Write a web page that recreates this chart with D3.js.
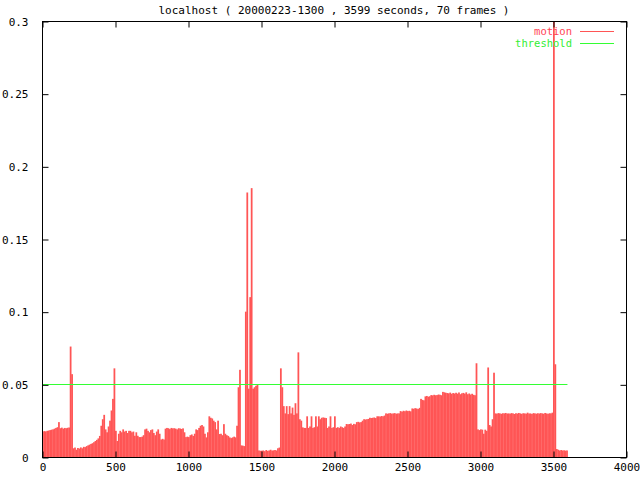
<!DOCTYPE html>
<html><head><meta charset="utf-8">
<script src="https://cdn.jsdelivr.net/npm/d3@7"></script>
<style>body{margin:0;background:#fff}svg{display:block}text{font-family:"DejaVu Sans Mono",monospace;font-size:11px}</style>
</head><body>
<script>
const title = "localhost ( 20000223-1300 , 3599 seconds, 70 frames )";
const binSeconds = 10;
const motion = [
0.0175,0.0178,0.0176,0.018,0.0182,0.0185,0.0188,0.019,0.0195,0.020,
0.0205,0.024,0.0198,0.0202,0.0195,0.0200,0.0198,0.0201,0.0203,0.076,
0.057,0.006,0.0065,0.005,0.0062,0.0058,0.0066,0.006,0.007,0.0068,
0.0075,0.008,0.0085,0.009,0.0095,0.0102,0.011,0.0118,0.0128,0.0145,
0.0215,0.026,0.029,0.019,0.017,0.021,0.025,0.032,0.040,0.061,
0.018,0.011,0.016,0.018,0.017,0.019,0.0175,0.018,0.0165,0.018,
0.018,0.017,0.0175,0.0146,0.017,0.0146,0.0137,0.0137,0.014,0.015,
0.019,0.0195,0.018,0.017,0.0185,0.019,0.0165,0.015,0.0175,0.019,
0.016,0.012,0.0125,0.012,0.0195,0.020,0.0198,0.0192,0.020,0.0197,
0.0198,0.0195,0.019,0.0198,0.0196,0.0193,0.0197,0.017,0.0137,0.014,
0.0137,0.015,0.0155,0.0145,0.016,0.019,0.0185,0.020,0.0215,0.022,
0.021,0.016,0.0135,0.017,0.028,0.027,0.0265,0.025,0.024,0.019,
0.025,0.0158,0.016,0.015,0.0226,0.016,0.015,0.0145,0.0135,0.013,
0.0135,0.014,0.0135,0.0215,0.048,0.060,0.008,0.0078,0.0075,0.100,
0.182,0.047,0.110,0.185,0.047,0.048,0.049,0.050,0.0045,0.0043,
0.0043,0.0045,0.004,0.0048,0.0042,0.0045,0.005,0.0044,0.0046,0.0048,
0.0045,0.006,0.0065,0.061,0.048,0.035,0.030,0.035,0.0295,0.035,
0.030,0.034,0.029,0.037,0.030,0.072,0.026,0.025,0.0204,0.020,
0.020,0.028,0.020,0.021,0.028,0.020,0.0205,0.028,0.021,0.028,
0.026,0.027,0.0272,0.027,0.0268,0.020,0.021,0.028,0.020,0.0205,
0.028,0.020,0.0205,0.020,0.021,0.0205,0.020,0.021,0.0227,0.0225,
0.0227,0.023,0.022,0.0228,0.0225,0.024,0.0242,0.0238,0.024,0.025,
0.026,0.0258,0.026,0.0262,0.027,0.0268,0.027,0.0272,0.0268,0.028,
0.028,0.0278,0.0282,0.028,0.0285,0.030,0.0298,0.030,0.0302,0.0298,
0.030,0.0302,0.0298,0.030,0.030,0.0316,0.0312,0.0318,0.0315,0.032,
0.0316,0.0318,0.0314,0.0334,0.0332,0.0336,0.0334,0.033,0.0338,0.040,
0.0393,0.039,0.0417,0.042,0.0415,0.0418,0.0426,0.0424,0.0428,0.0425,
0.0426,0.043,0.0428,0.0425,0.0448,0.0445,0.0442,0.044,0.0438,0.0443,
0.0435,0.044,0.0437,0.0442,0.0436,0.0444,0.0432,0.0438,0.0441,0.0436,
0.0445,0.0432,0.0437,0.043,0.0435,0.0428,0.0425,0.0645,0.019,0.0185,
0.019,0.0188,0.016,0.0188,0.018,0.0616,0.022,0.021,0.026,0.058,
0.030,0.0298,0.0302,0.030,0.0297,0.0301,0.030,0.0303,0.0299,0.030,
0.0298,0.0302,0.030,0.0296,0.0301,0.0299,0.0303,0.030,0.0297,0.0301,
0.030,0.0298,0.0305,0.0299,0.030,0.0296,0.0302,0.030,0.0298,0.0301,
0.0299,0.0302,0.030,0.0298,0.0303,0.030,0.0297,0.0301,0.030,0.0305,
0.3,0.0638,0.0055,0.005,0.0045,0.0048,0.0045,0.0046,0.0044,0.0045
];
const threshold = 0.05;
const durationSeconds = 3599;
const xTicks = [0,500,1000,1500,2000,2500,3000,3500,4000];
const yTicks = [0,0.05,0.1,0.15,0.2,0.25,0.3];
const legendLabels = ["motion","threshold"];

const W=640,H=480, L=42, R=626, T=21, B=457;
const motionColor="#ff5555", threshColor="#33ff33";
const svg=d3.select("body").append("svg").attr("width",W).attr("height",H);
const x=d3.scaleLinear().domain([0,4000]).range([L,R]);
const y=d3.scaleLinear().domain([0,0.3]).range([B,T]);

svg.append("defs").append("clipPath").attr("id","clip").append("rect")
  .attr("x",L).attr("y",T).attr("width",R-L).attr("height",B-T);

// motion impulses
svg.append("g").attr("clip-path","url(#clip)").selectAll("rect").data(motion).join("rect")
  .attr("x",(d,i)=>x(i*binSeconds))
  .attr("width",(d,i)=>x((i+1)*binSeconds)-x(i*binSeconds)+0.3)
  .attr("y",d=>y(d)).attr("height",d=>B-y(d))
  .attr("fill",motionColor);

// threshold
svg.append("line").attr("x1",x(0)).attr("x2",x(durationSeconds))
  .attr("y1",Math.round(y(threshold))+0.5).attr("y2",Math.round(y(threshold))+0.5)
  .attr("stroke",threshColor).attr("stroke-width",1);

// frame
svg.append("rect").attr("x",L+0.5).attr("y",T+0.5).attr("width",R-L).attr("height",B-T)
  .attr("fill","none").attr("stroke","#000").attr("stroke-width",1);

// axes via d3 axis generators, ticks inward & mirrored
const fmtY=d=>String(+d.toFixed(2));
const axB=svg.append("g").attr("transform",`translate(0.5,${B+0.5})`)
  .call(d3.axisBottom(x).tickValues(xTicks).tickSize(-6).tickPadding(11).tickFormat(d3.format("d")));
const axT=svg.append("g").attr("transform",`translate(0.5,${T+0.5})`)
  .call(d3.axisTop(x).tickValues(xTicks).tickSize(-6).tickFormat(""));
const axL=svg.append("g").attr("transform",`translate(${L+0.5},0.5)`)
  .call(d3.axisLeft(y).tickValues(yTicks).tickSize(-6).tickPadding(14).tickFormat(fmtY));
const axR=svg.append("g").attr("transform",`translate(${R+0.5},0.5)`)
  .call(d3.axisRight(y).tickValues(yTicks).tickSize(-6).tickFormat(""));
[axB,axT,axL,axR].forEach(g=>{g.select(".domain").remove();
  g.selectAll("text").attr("fill","#000").style("font-family",'"DejaVu Sans Mono",monospace').style("font-size","11px");
  g.selectAll("line").attr("stroke","#000");});
axB.selectAll("text").attr("dy","0.35em").attr("y",10);

// title
svg.append("text").attr("x",(L+R)/2).attr("y",14).attr("text-anchor","middle").attr("fill","#000").text(title);

// legend
const legColors=[motionColor,threshColor];
legendLabels.forEach((lab,i)=>{
  const yy=31+i*12;
  svg.append("text").attr("x",572).attr("y",yy).attr("dy","0.35em").attr("text-anchor","end")
    .style("font-size","10.5px")
    .attr("fill",i===0?"#ff4455":"#33ee33").text(lab);
  svg.append("line").attr("x1",580).attr("x2",614).attr("y1",yy+0.5).attr("y2",yy+0.5)
    .attr("stroke",legColors[i]).attr("stroke-width",1);
});
</script>
</body></html>
